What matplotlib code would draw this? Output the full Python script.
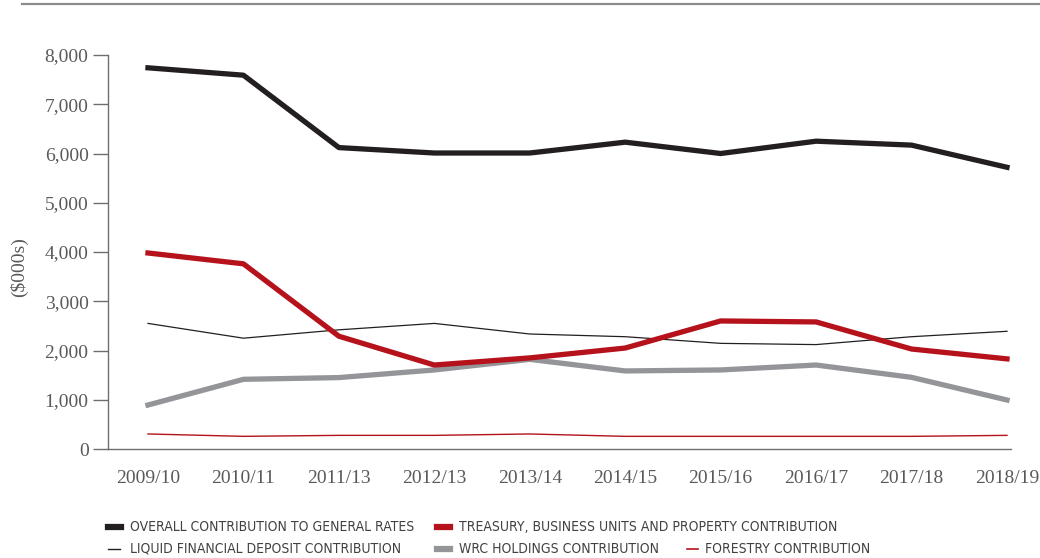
import matplotlib
matplotlib.use("Agg")
import matplotlib.pyplot as plt
from matplotlib.lines import Line2D

years = ["2009/10", "2010/11", "2011/13", "2012/13", "2013/14",
         "2014/15", "2015/16", "2016/17", "2017/18", "2018/19"]
overall = [7740, 7590, 6120, 6010, 6010, 6230, 6000, 6250, 6170, 5720]
treasury = [3980, 3760, 2290, 1705, 1850, 2050, 2600, 2580, 2030, 1830]
liquid = [2550, 2250, 2420, 2550, 2335, 2280, 2145, 2120, 2280, 2390]
wrc = [893, 1415, 1450, 1605, 1820, 1585, 1605, 1705, 1455, 995]
forestry = [305, 257, 277, 277, 305, 257, 257, 257, 257, 277]

legend_labels = ["OVERALL CONTRIBUTION TO GENERAL RATES",
                 "TREASURY, BUSINESS UNITS AND PROPERTY CONTRIBUTION",
                 "LIQUID FINANCIAL DEPOSIT CONTRIBUTION",
                 "WRC HOLDINGS CONTRIBUTION",
                 "FORESTRY CONTRIBUTION"]

BLACK = "#231f20"
RED = "#b5121b"
GRAY = "#939598"
TXT = "#58595b"

W, H = 1040, 558
fig = plt.figure(figsize=(W / 100, H / 100), dpi=100)
ax = fig.add_axes([108 / W, (H - 449) / H, (1011 - 108) / W, (449 - 55) / H])

x = list(range(len(years)))
ax.plot(x, liquid, color=BLACK, lw=0.9)
ax.plot(x, forestry, color=RED, lw=1.0)
ax.plot(x, wrc, color=GRAY, lw=3.8)
ax.plot(x, treasury, color=RED, lw=3.8)
ax.plot(x, overall, color=BLACK, lw=3.8)

ax.set_xlim(-0.419, 9.042)
ax.set_ylim(0, 8000)
ax.set_yticks(range(0, 8001, 1000))
ax.set_yticklabels([f"{v:,}" for v in range(0, 8001, 1000)])
ax.set_xticks(x)
ax.set_xticklabels(years)

serif = "Liberation Serif"
for lab in ax.get_yticklabels() + ax.get_xticklabels():
    lab.set_fontfamily(serif)
    lab.set_fontsize(14)
    lab.set_color(TXT)

ax.tick_params(axis="y", length=11, width=1, color="#6d6e71", pad=3)
ax.tick_params(axis="x", length=0, pad=15)
for s in ["top", "right"]:
    ax.spines[s].set_visible(False)
for s in ["left", "bottom"]:
    ax.spines[s].set_color("#6d6e71")
    ax.spines[s].set_linewidth(1.0)

ax.set_ylabel("($000s)", fontfamily=serif, fontsize=14, color=TXT)
ax.yaxis.set_label_coords(-(108 - 28) / (1011 - 108), (449 - 267) / (449 - 55))

# top rule
fig.add_artist(Line2D([22 / W, 1.0], [(H - 4) / H] * 2, color="#8a8c8e", lw=1.6))

# legend
legend_font = dict(fontfamily="DejaVu Sans", fontstretch="condensed",
                   fontsize=10.0, color="#414042", va="center", ha="left")
items = [
    (108, 121, 130, 527, BLACK, 4.5, legend_labels[0]),
    (437, 450, 459, 527, RED, 4.5, legend_labels[1]),
    (108, 120, 130, 549, BLACK, 1.0, legend_labels[2]),
    (437, 450, 459, 549, GRAY, 4.5, legend_labels[3]),
    (687, 698, 705, 549, RED, 1.2, legend_labels[4]),
]
for x0, x1, tx, y, c, lw, lab in items:
    fig.add_artist(Line2D([x0 / W, x1 / W], [(H - y) / H] * 2, color=c, lw=lw))
    fig.text(tx / W, (H - y) / H, lab, **legend_font)

fig.savefig("out.png", dpi=100)
